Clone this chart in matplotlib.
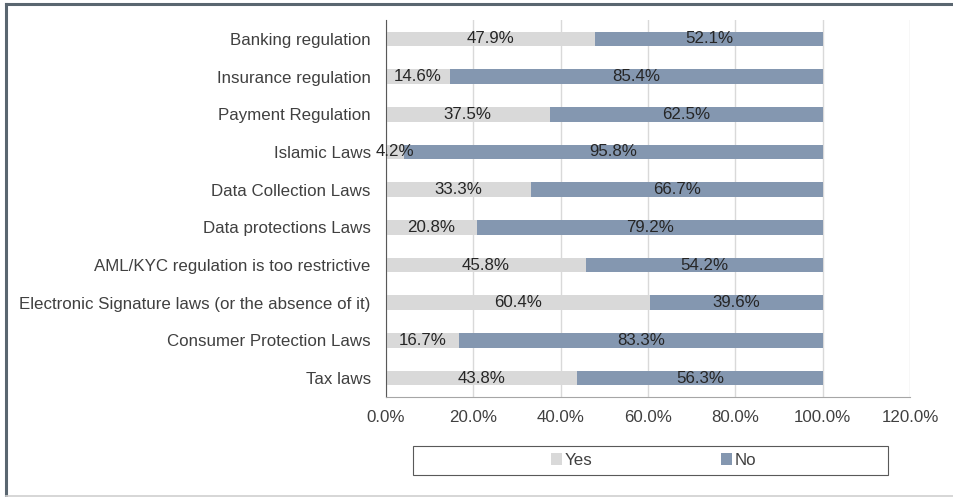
import numpy as np
import matplotlib.pyplot as plt
from matplotlib.lines import Line2D
from matplotlib.patches import Rectangle

plt.rcParams['font.family'] = ['Liberation Sans', 'DejaVu Sans']

categories = ['Banking regulation', 'Insurance regulation', 'Payment Regulation',
              'Islamic Laws', 'Data Collection Laws', 'Data protections Laws',
              'AML/KYC regulation is too restrictive',
              'Electronic Signature laws (or the absence of it)',
              'Consumer Protection Laws', 'Tax laws']
yes_vals = [47.9, 14.6, 37.5, 4.2, 33.3, 20.8, 45.8, 60.4, 16.7, 43.8]
no_vals = [52.1, 85.4, 62.5, 95.8, 66.7, 79.2, 54.2, 39.6, 83.3, 56.3]
xticks = [0, 20, 40, 60, 80, 100, 120]

yes_color = '#D9D9D9'
no_color = '#8497B0'
text_color = '#404040'
fs = 12.2

fig = plt.figure(figsize=(9.54, 4.97), dpi=100)
ax = fig.add_axes([386 / 954, 1 - 397 / 497, 524 / 954, 377 / 497])

y = np.arange(len(categories))
yes = np.array(yes_vals) / 100
no = np.array(no_vals) / 100
h = 0.385
b1 = ax.barh(y, yes, height=h, color=yes_color, label='Yes', zorder=2)
b2 = ax.barh(y, no, left=yes, height=h, color=no_color, label='No', zorder=2)

for i in range(len(categories)):
    ax.text(yes[i] / 2, y[i], f'{yes_vals[i]:.1f}%', ha='center', va='center',
            fontsize=fs, color='#262626', zorder=3)
    ax.text(yes[i] + no[i] / 2, y[i], f'{no_vals[i]:.1f}%', ha='center', va='center',
            fontsize=fs, color='#262626', zorder=3)

ax.set_ylim(len(categories) - 0.5, -0.5)
ax.set_xlim(0, 1.2)
ax.set_yticks(y)
ax.set_yticklabels(categories, fontsize=fs, color=text_color)
ax.set_xticks([t / 100 for t in xticks])
ax.set_xticklabels([f'{t:.1f}%' for t in xticks], fontsize=fs, color=text_color)
ax.tick_params(axis='both', length=0)
ax.tick_params(axis='y', pad=11)
ax.tick_params(axis='x', pad=9)
ax.grid(axis='x', color='#D9D9D9', linewidth=1, zorder=0)

ax.spines['top'].set_visible(False)
ax.spines['right'].set_visible(False)
ax.spines['left'].set_color('#595959')
ax.spines['bottom'].set_color('#A6A6A6')

# legend box drawn separately, entries centred inside it
fig.add_artist(Rectangle((413 / 954, 1 - 475 / 497), 475 / 954, 29 / 497,
                         transform=fig.transFigure, fill=False,
                         edgecolor='#595959', linewidth=0.8))
leg = fig.legend(handles=[b1, b2], labels=['Yes', 'No'], ncol=2,
                 loc='center', bbox_to_anchor=(654 / 954, 1 - 460.5 / 497),
                 fontsize=fs, handlelength=0.65, handleheight=0.65, handletextpad=0.15,
                 columnspacing=7.6, frameon=False, borderaxespad=0)
for t in leg.get_texts():
    t.set_color(text_color)

# outer border of the chart
fig.add_artist(Line2D([6 / 954, 1], [1 - 3.5 / 497, 1 - 3.5 / 497], color='#5A6670', lw=2.2))
fig.add_artist(Line2D([6 / 954, 6 / 954], [0, 1 - 3.5 / 497], color='#5A6670', lw=2.2))
fig.add_artist(Line2D([6 / 954, 1], [1.5 / 497, 1.5 / 497], color='#D0D0D0', lw=1.2))

fig.savefig('out.png', dpi=100)
